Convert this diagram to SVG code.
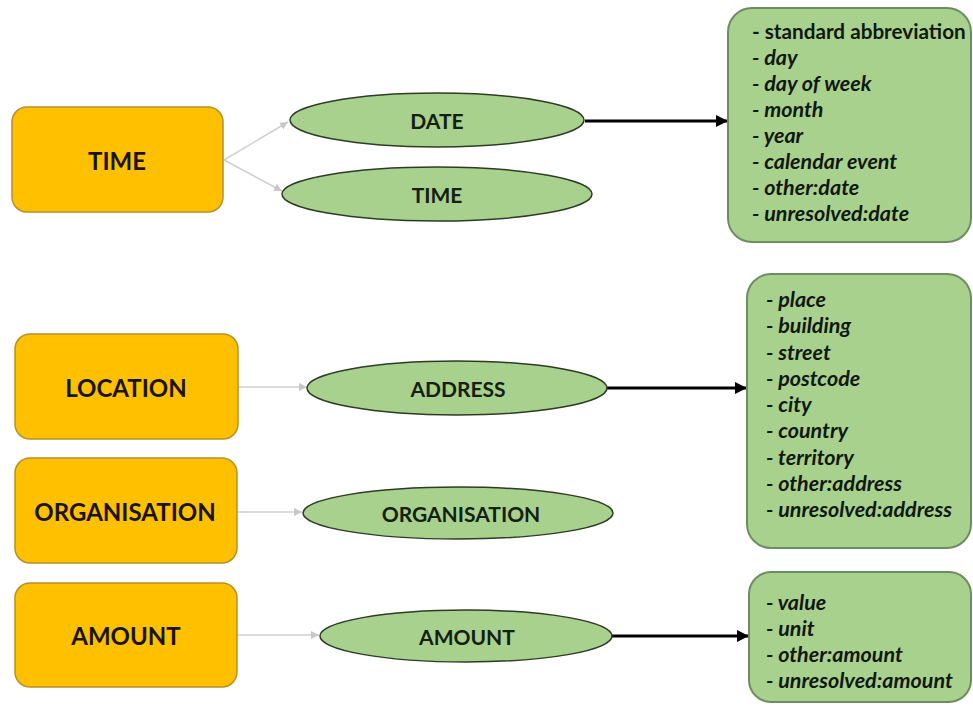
<svg xmlns="http://www.w3.org/2000/svg" width="973" height="713" viewBox="0 0 973 713">
<defs>
<style>
.cat{fill:#FFC000;stroke:#B8902A;stroke-width:1.5}
.ell{fill:#A9D18E;stroke:#2E3B26;stroke-width:1.5}
.box{fill:#A9D18E;stroke:#6E8C62;stroke-width:2}
.t1{font-family:Lato,"Open Sans",sans-serif;font-weight:bold;font-size:24px;fill:#1A1410;text-anchor:middle;dominant-baseline:central}
.t2{font-family:Lato,"Open Sans",sans-serif;font-weight:bold;font-size:21px;fill:#142010;text-anchor:middle;dominant-baseline:central}
.li{font-family:Lato,"Open Sans",sans-serif;font-weight:bold;font-style:italic;font-size:21.5px;fill:#101810}
.ln{font-style:normal;font-size:20.7px}
.gray{stroke:#CFCFCF;stroke-width:1.5;fill:none}
.blk{stroke:#000;stroke-width:3;fill:none}
</style>
<marker id="ag" markerUnits="userSpaceOnUse" markerWidth="10" markerHeight="10" refX="8" refY="4" orient="auto">
<path d="M0,0 L8,4 L0,8 Z" fill="#C8C8C8"/>
</marker>
<marker id="ab" markerUnits="userSpaceOnUse" markerWidth="14" markerHeight="14" refX="12" refY="6" orient="auto">
<path d="M0,0 L12,6 L0,12 Z" fill="#000"/>
</marker>
</defs>
<rect width="973" height="713" fill="#fff"/>

<g id="connectors">
<line class="gray" x1="224" y1="160" x2="288" y2="122" marker-end="url(#ag)"/>
<line class="gray" x1="224" y1="160" x2="282" y2="191" marker-end="url(#ag)"/>
<line class="gray" x1="238" y1="387" x2="307" y2="387" marker-end="url(#ag)"/>
<line class="gray" x1="237" y1="512" x2="302" y2="512" marker-end="url(#ag)"/>
<line class="gray" x1="237" y1="635" x2="319" y2="635" marker-end="url(#ag)"/>
<line class="blk" x1="585" y1="121" x2="728" y2="121" marker-end="url(#ab)"/>
<line class="blk" x1="607" y1="388" x2="747" y2="388" marker-end="url(#ab)"/>
<line class="blk" x1="612" y1="636" x2="749" y2="636" marker-end="url(#ab)"/>
</g>

<g id="cat-time"><rect class="cat" x="12" y="107" width="211" height="105" rx="15"/><text class="t1" x="117" y="160">TIME</text></g>
<g id="cat-location"><rect class="cat" x="15" y="334" width="223" height="105" rx="15"/><text class="t1" x="126" y="387">LOCATION</text></g>
<g id="cat-organisation"><rect class="cat" x="15" y="458" width="222" height="105" rx="15"/><text class="t1" x="125" y="511">ORGANISATION</text></g>
<g id="cat-amount"><rect class="cat" x="15" y="583" width="222" height="104" rx="15"/><text class="t1" x="126" y="635">AMOUNT</text></g>

<g id="ell-date"><ellipse class="ell" cx="437" cy="120" rx="147" ry="27"/><text class="t2" x="437" y="120">DATE</text></g>
<g id="ell-time"><ellipse class="ell" cx="437" cy="194" rx="155" ry="27"/><text class="t2" x="437" y="194">TIME</text></g>
<g id="ell-address"><ellipse class="ell" cx="457" cy="388" rx="150" ry="27"/><text class="t2" x="458" y="388">ADDRESS</text></g>
<g id="ell-organisation"><ellipse class="ell" cx="458" cy="513" rx="155" ry="26"/><text class="t2" x="461" y="513">ORGANISATION</text></g>
<g id="ell-amount"><ellipse class="ell" cx="466" cy="636" rx="146" ry="26"/><text class="t2" x="467" y="636">AMOUNT</text></g>

<g id="list-date"><rect class="box" x="728" y="8" width="243" height="234" rx="24"/>
<text class="li" x="752" y="39"><tspan class="ln">- standard abbreviation</tspan></text>
<text class="li" x="752" y="65">- day</text>
<text class="li" x="752" y="91">- day of week</text>
<text class="li" x="752" y="117">- month</text>
<text class="li" x="752" y="143">- year</text>
<text class="li" x="752" y="169">- calendar event</text>
<text class="li" x="752" y="195">- other:date</text>
<text class="li" x="752" y="221">- unresolved:date</text>
</g>

<g id="list-address"><rect class="box" x="747" y="274" width="224" height="274" rx="24"/>
<text class="li" x="766" y="307">- place</text>
<text class="li" x="766" y="333">- building</text>
<text class="li" x="766" y="360">- street</text>
<text class="li" x="766" y="386">- postcode</text>
<text class="li" x="766" y="412">- city</text>
<text class="li" x="766" y="438">- country</text>
<text class="li" x="766" y="465">- territory</text>
<text class="li" x="766" y="491">- other:address</text>
<text class="li" x="766" y="517">- unresolved:address</text>
</g>

<g id="list-amount"><rect class="box" x="749" y="572" width="222" height="130" rx="22"/>
<text class="li" x="766" y="610">- value</text>
<text class="li" x="766" y="636">- unit</text>
<text class="li" x="766" y="662">- other:amount</text>
<text class="li" x="766" y="688">- unresolved:amount</text>
</g>
</svg>
